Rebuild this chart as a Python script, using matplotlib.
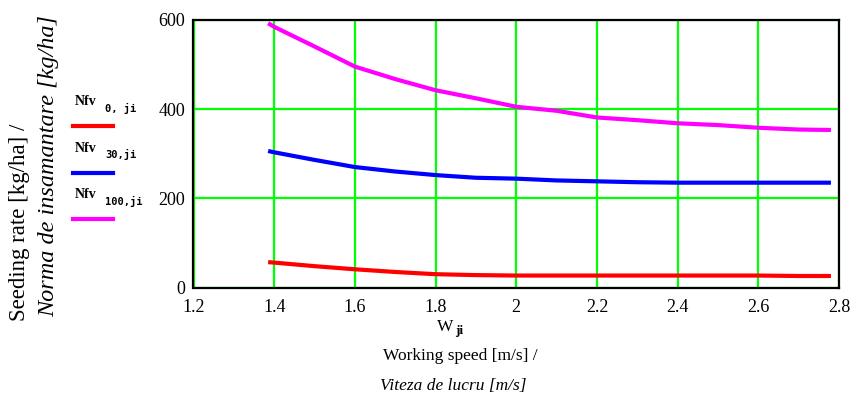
import matplotlib
matplotlib.use("Agg")
import matplotlib.pyplot as plt

# Data
speed = [1.385, 1.4, 1.5, 1.6, 1.7, 1.8, 1.9, 2.0, 2.1, 2.2, 2.3, 2.4, 2.5, 2.6, 2.7, 2.78]
nfv_0 = [57, 56, 48, 41, 35, 30, 28, 27, 27, 27, 27, 27, 27, 27, 26, 26]
nfv_30 = [306, 303, 286, 270, 260, 252, 246, 244, 240, 238, 236, 235, 235, 235, 235, 235]
nfv_100 = [592, 584, 540, 495, 467, 442, 424, 405, 396, 381, 375, 368, 364, 358, 354, 353]

x_ticks = [1.2, 1.4, 1.6, 1.8, 2.0, 2.2, 2.4, 2.6, 2.8]
x_tick_labels = ["1.2", "1.4", "1.6", "1.8", "2", "2.2", "2.4", "2.6", "2.8"]
y_ticks = [0, 200, 400, 600]
y_tick_labels = ["0", "200", "400", "600"]

series = [
    (nfv_0, "#ff0000", "0, ji"),
    (nfv_30, "#0000ff", "30,ji"),
    (nfv_100, "#ff00ff", "100,ji"),
]

W, H = 853, 401
fig = plt.figure(figsize=(W / 100, H / 100), dpi=100)
fig.patch.set_facecolor("white")

def fx(px):
    return px / W

def fy(py):
    return 1 - py / H

ax = fig.add_axes([fx(193.5), fy(287.6), fx(839) - fx(193.5), fy(19.7) - fy(287.6)])
ax.set_xlim(1.2, 2.8)
ax.set_ylim(0, 600)
ax.set_xticks(x_ticks)
ax.set_xticklabels(x_tick_labels)
ax.set_yticks(y_ticks)
ax.set_yticklabels(y_tick_labels)
ax.grid(True, color="#00ff00", linewidth=1.6)
ax.set_axisbelow(True)
ax.tick_params(axis="x", length=0, pad=8.5, labelsize=13)
ax.tick_params(axis="y", length=0, pad=6, labelsize=13)
for lab in ax.get_xticklabels() + ax.get_yticklabels():
    lab.set_family("Liberation Serif")
for s in ax.spines.values():
    s.set_color("black")
    s.set_linewidth(1.6)
    s.set_zorder(1)

for vals, col, _ in series:
    ax.plot(speed, vals, color=col, linewidth=3, solid_capstyle="butt", zorder=3)

# Legend on the left
leg_text_y = [102, 148, 195]
leg_line_y = [126, 173, 219]
for (vals, col, sub), ty, ly in zip(series, leg_text_y, leg_line_y):
    fig.text(fx(75), fy(ty), "Nfv", family="Liberation Serif", fontsize=10,
             fontweight="bold", ha="left", va="center")
    fig.text(fx(105), fy(ty + 6), sub, family="DejaVu Sans Mono", fontsize=7.5,
             fontweight="bold", ha="left", va="center")
    fig.add_artist(plt.Line2D([fx(73), fx(113)], [fy(ly), fy(ly)], color=col,
                              linewidth=3, transform=fig.transFigure))

# Y axis labels
fig.text(fx(20), fy(222), "Seeding rate [kg/ha] /", family="Liberation Serif",
         fontsize=16.5, rotation=90, ha="center", va="center")
fig.text(fx(49), fy(166), "Norma de insamantare [kg/ha]", family="Liberation Serif",
         fontsize=17.5, style="italic", rotation=90, ha="center", va="center")

# X axis labels
fig.text(fx(445), fy(327), "W", family="Liberation Serif", fontsize=12.5,
         ha="center", va="center")
fig.text(fx(455), fy(331), "ji", family="Liberation Serif", fontsize=9.5,
         fontweight="bold", ha="left", va="center")
fig.text(fx(460), fy(356), "Working speed [m/s] /", family="Liberation Serif",
         fontsize=12.5, ha="center", va="center")
fig.text(fx(453), fy(386), "Viteza de lucru [m/s]", family="Liberation Serif",
         fontsize=12.5, style="italic", ha="center", va="center")

fig.savefig("out.png", dpi=100)
